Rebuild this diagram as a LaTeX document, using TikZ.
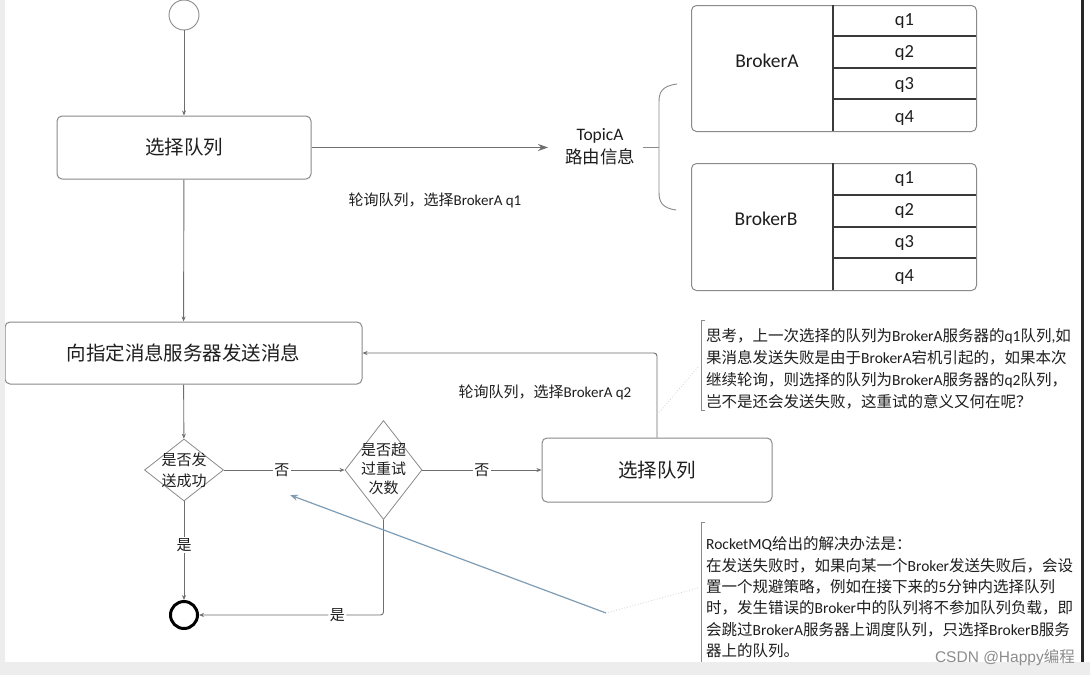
\documentclass[tikz,border=0pt]{standalone}
\usepackage{fontspec}
\setmainfont{Noto Sans CJK SC}
\newfontfamily\latf{Carlito}
\newfontfamily\wmf{Liberation Sans}
\newcommand\lat[1]{{\latf #1}}
\usetikzlibrary{shapes.geometric,arrows.meta}
\definecolor{bord}{HTML}{8A8A8A}
\definecolor{conn}{HTML}{6E6E6E}
\definecolor{txt}{HTML}{1E1E1E}
\definecolor{bgstrip}{HTML}{EDEDED}
\definecolor{bluea}{HTML}{7F9DB4}
\definecolor{divc}{HTML}{3A3A3A}
\begin{document}
\begin{tikzpicture}[x=1pt,y=-1pt,
  box/.style={draw=bord, line width=1pt, rounded corners=5pt, fill=white, text=txt,
    font=\fontsize{19.5}{23}\selectfont, inner sep=0},
  dia/.style={diamond, draw=bord, line width=0.8pt, inner sep=0, fill=white},
  diatext/.style={align=center, text=txt, inner sep=0},
  conn/.style={draw=conn, line width=0.9pt},
  arr/.style={conn, -{Stealth[length=5pt,width=4pt]}},
  lbl/.style={fill=white, inner sep=1.5pt, text=txt, font=\fontsize{15}{18}\selectfont},
  plainlbl/.style={inner sep=0, text=txt, font=\fontsize{15}{18}\selectfont},
  note/.style={text=txt, align=left, anchor=north west, inner sep=0},
  qt/.style={inner sep=0, text=txt, font=\latf\fontsize{18.5}{20}\selectfont},
  bname/.style={inner sep=0, text=txt, font=\latf\fontsize{19.5}{22}\selectfont},
  brk/.style={draw=bord, line width=0.9pt},
  faint/.style={draw=gray!35, line width=0.8pt, dotted}
]
\useasboundingbox (0,0) rectangle (1090,675);
\fill[white] (0,0) rectangle (1090,675);

% start / end
\node[circle, draw=bord, line width=0.9pt, minimum size=30pt, inner sep=0] (start) at (184,15) {};
\node[circle, draw=black, line width=3pt, minimum size=27pt, inner sep=0] (end) at (184,615) {};

% boxes
\node[box, minimum width=254pt, minimum height=63pt] (box1) at (184,147.5) {选择队列};
\node[box, minimum width=357pt, minimum height=62pt] (box2) at (183.5,353) {向指定消息服务器发送消息};
\node[box, minimum width=230pt, minimum height=64pt] (box3) at (657,470) {选择队列};

% diamonds
\node[dia, minimum width=79pt, minimum height=62pt] (d1) at (184,470) {};
\node[diatext, font=\fontsize{15}{21}\selectfont] (d1t) at (184,470) {是否发\\送成功};
\node[dia, minimum width=77pt, minimum height=99pt] (d2) at (383.5,470) {};
\node[diatext, font=\fontsize{15}{19}\selectfont] (d2t) at (383.5,469) {是否超\\过重试\\次数};

% topic
\node[inner sep=0, align=center, text=txt, font=\fontsize{17.5}{23}\selectfont] (topic) at (600,147) {\lat{TopicA}\\路由信息};
\coordinate (tip) at (548,147.5);

% brace
\coordinate (brTop) at (677,84);
\coordinate (brBot) at (676,210);
\coordinate (brMid) at (659,147);
\coordinate (brTick) at (643,147);
\draw[brk] (brTop) .. controls (662,86) and (659,92) .. (659,102) -- (659,192)
  .. controls (659,202) and (662,208) .. (brBot);
\draw[brk] (brTick) -- (brMid);

% brokers
\node[draw=bord, line width=1pt, rounded corners=5pt, minimum width=285pt, minimum height=126pt, anchor=north west, inner sep=0] (brokerA) at (691,5) {};
\node[draw=bord, line width=1pt, rounded corners=5pt, minimum width=285pt, minimum height=127pt, anchor=north west, inner sep=0] (brokerB) at (691,163) {};
\node[bname] (nA) at (767,61) {BrokerA};
\node[bname] (nB) at (766,219) {BrokerB};
\draw[divc, line width=1.1pt] (833,5) -- (833,131);
\draw[divc, line width=1.1pt] (833,163) -- (833,290);
\foreach \y in {36,68,99} \draw[divc, line width=1.1pt] (833,\y) -- (976,\y);
\foreach \y in {195,227,258} \draw[divc, line width=1.1pt] (833,\y) -- (976,\y);
\foreach \y/\t/\n in {21/q1/a1, 53/q2/a2, 85/q3/a3, 118/q4/a4} \node[qt] (q\n) at (904.5,\y) {\t};
\foreach \y/\t/\n in {179/q1/b1, 211/q2/b2, 243/q3/b3, 277/q4/b4} \node[qt] (q\n) at (904.5,\y) {\t};

% connectors
\draw[arr] (start) -- (box1);
\draw[conn, -{Stealth[length=10pt,width=7pt]}] (box1.east) -- (tip);
\draw[arr] (box1) -- (box2);
\draw[arr] (box2) -- (d1);
\draw[arr] (d1) -- node[lbl, pos=0.48] (no1) {否} (d2);
\draw[arr] (d2) -- node[lbl, pos=0.5] (no2) {否} (box3);
\draw[arr] (d1) -- node[lbl, pos=0.44] (yes1) {是} (end);
\draw[arr, rounded corners=3pt] (d2.south) |- node[lbl, pos=0.625] (yes2) {是} (end.east);
\draw[arr, rounded corners=3pt] (box3.north) |- (box2.east);

% edge labels
\node[plainlbl] (l1) at (435,200) {轮询队列，选择\lat{BrokerA q1}};
\node[plainlbl] (l2) at (545,392) {轮询队列，选择\lat{BrokerA q2}};

% notes
\node[note, font=\fontsize{15.5}{22}\selectfont] (note1) at (706,328) {思考，上一次选择的队列为\lat{BrokerA}服务器的\lat{q1}队列\lat{,}如\\
果消息发送失败是由于\lat{BrokerA}宕机引起的，如果本次\\
继续轮询，则选择的队列为\lat{BrokerA}服务器的\lat{q2}队列，\\
岂不是还会发送失败，这重试的意义又何在呢？};
\node[note, font=\fontsize{15.5}{21.4}\selectfont] (note2) at (706,536.5) {\lat{RocketMQ}给出的解决办法是：\\
在发送失败时，如果向某一个\lat{Broker}发送失败后，会设\\
置一个规避策略，例如在接下来的\lat{5}分钟内选择队列\\
时，发生错误的\lat{Broker}中的队列将不参加队列负载，即\\
会跳过\lat{BrokerA}服务器上调度队列，只选择\lat{BrokerB}服务\\
器上的队列。};
\coordinate (n1a) at (705,320);
\coordinate (n1b) at (705,410);
\draw[brk] (n1a) -- ++(-4,0) -- ++(0,90) -- (n1b);
\coordinate (n2a) at (705,522);
\draw[brk] (n2a) -- ++(-4,0) -- ++(0,150);

% faint dotted links
\coordinate (f1a) at (698,367);
\coordinate (f1b) at (657,415);
\draw[faint] (f1a) -- (f1b);
\coordinate (f2a) at (698,588);
\coordinate (bluefrom) at (606,613);
\coordinate (blueto) at (290,495);
\draw[faint] (f2a) -- (bluefrom);
\draw[bluea, line width=1.2pt, -{Stealth[length=8pt,width=6pt]}] (bluefrom) -- (blueto);

% frame strips
\fill[bgstrip] (0,0) rectangle (4.5,675);
\fill[bgstrip] (0,662) rectangle (1090,675);
\fill[black!85] (1080.5,0) rectangle (1084,662);

% watermark
\node[anchor=base east, inner sep=0, text=black!45, font=\fontsize{15.5}{18}\selectfont] (wm) at (1075,662) {{\wmf CSDN @Happy}编程};
\end{tikzpicture}
\end{document}
